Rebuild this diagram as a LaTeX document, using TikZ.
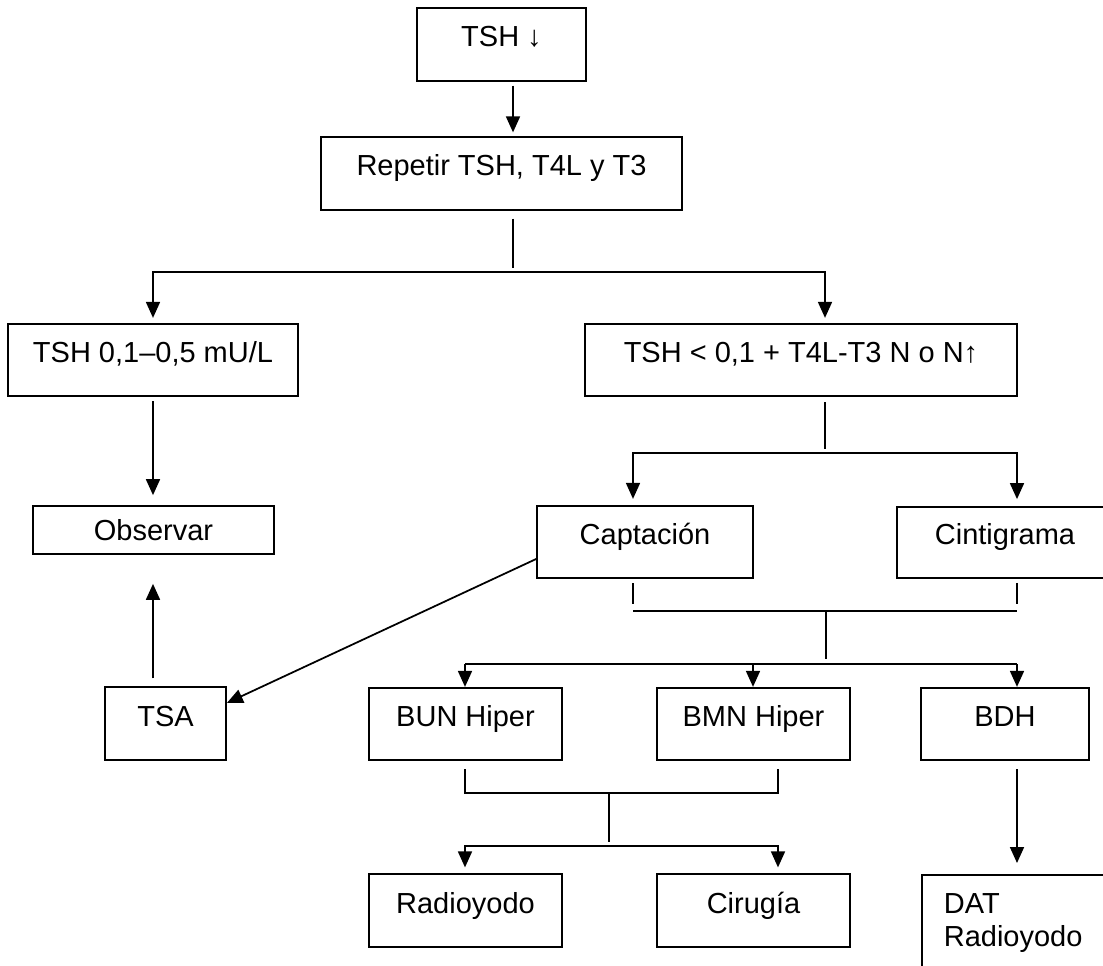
\documentclass[tikz,border=0pt]{standalone}
\usepackage{fontspec}
\setmainfont{Liberation Sans}
\usetikzlibrary{arrows.meta}

\tikzset{
  caja/.style={draw, line width=1pt, inner sep=0pt, minimum height=1.45cm,
    text height=0.42cm, text depth=0.32cm},
  linea/.style={line width=1pt},
  flecha/.style={linea, ->},
}

\begin{document}
\begin{tikzpicture}[x=0.02cm, y=-0.02cm, >={Triangle[length=0.32cm,width=0.28cm]},
    font=\fontsize{16.5}{18.6}\selectfont]
    \clip (0,0) rectangle (1103,966);

    % Cajas
    \node[caja, minimum width=3.38cm] (tsh) at (501.5,44.5) {TSH ↓};
    \node[caja, minimum width=7.22cm] (rep) at (501.5,173.5) {Repetir TSH, T4L y T3};
    \node[caja, minimum width=5.8cm] (low) at (153,360) {TSH 0,1–0,5 mU/L};
    \node[caja, minimum width=8.64cm] (sup) at (801,360) {TSH < 0,1 + T4L-T3 N o N↑};
    \node[caja, minimum width=4.82cm, minimum height=0.96cm, text depth=0cm] (obs) at (153.5,530) {Observar};
    \node[caja, minimum width=4.32cm] (cap) at (645,542) {Captación};
    \node[caja, minimum width=4.32cm, minimum height=1.42cm] (cin) at (1005,542.5) {Cintigrama};
    \node[caja, minimum width=2.42cm] (tsa) at (165.5,723.5) {TSA};
    \node[caja, minimum width=3.86cm] (bun) at (465.5,724) {BUN Hiper};
    \node[caja, minimum width=3.86cm] (bmn) at (753.5,724) {BMN Hiper};
    \node[caja, minimum width=3.36cm] (bdh) at (1005,724) {BDH};
    \node[caja, minimum width=3.86cm] (rad) at (465.5,910.5) {Radioyodo};
    \node[caja, minimum width=3.86cm] (cir) at (753.5,910.5) {Cirugía};
    \node[draw, line width=1pt, anchor=north west, align=left, text width=3.2cm,
      inner xsep=0.44cm, inner ysep=0.38cm] (dat) at (921,874) {DAT\\Radioyodo};

    % Nodi di raccordo
    \coordinate (n1) at (513,272);
    \coordinate (n2) at (825,453);
    \coordinate (n3) at (826,611);
    \coordinate (n4) at (826,664);
    \coordinate (n5) at (609,793);
    \coordinate (n6) at (609,846);

    % Parte alta
    \draw[flecha, shorten <=0.08cm, shorten >=0.08cm] (513,0 |- tsh.south) -- (513,0 |- rep.north);
    \draw[linea, shorten <=0.16cm] (513,0 |- rep.south) -- ([yshift=0.08cm]n1);
    \draw[linea, <->, shorten <=0.1cm, shorten >=0.1cm] (low.north) |- (n1) -| (825,0 |- sup.north);

    % Ramo sinistro
    \draw[flecha, shorten <=0.08cm, shorten >=0.2cm] (low.south) -- (153,0 |- obs.north);
    \draw[flecha, shorten <=0.16cm, shorten >=0.58cm] (153,0 |- tsa.north) -- (153,0 |- obs.south);
    \draw[flecha] ([yshift=-0.34cm]cap.west) -- ([yshift=0.41cm]tsa.east);

    % Ramo destro
    \draw[linea, shorten <=0.1cm] (825,0 |- sup.south) -- ([yshift=0.08cm]n2);
    \draw[linea, <->, shorten <=0.12cm, shorten >=0.14cm] (633,0 |- cap.north) |- (n2) -| (1017,0 |- cin.north);
    \draw[linea, shorten <=0.08cm] (633,0 |- cap.south) -- ++(0,25);
    \draw[linea, shorten <=0.08cm] (1017,0 |- cin.south) -- ++(0,25);
    \draw[linea] (633,0 |- n3) -- (1017,0 |- n3);
    \draw[linea] (n3) -- ([yshift=0.1cm]n4);
    \draw[linea] (465,0 |- n4) -- (1017,0 |- n4);
    \draw[flecha] (465,0 |- n4) -- (465,0 |- bun.north);
    \draw[flecha] (753,0 |- n4) -- (753,0 |- bmn.north);
    \draw[flecha] (1017,0 |- n4) -- (1017,0 |- bdh.north);

    % Terapia
    \draw[linea, shorten <=0.16cm, shorten >=0.16cm] (465,0 |- bun.south) |- (n5) -| (778,0 |- bmn.south);
    \draw[linea] (n5) -- ([yshift=0.08cm]n6);
    \draw[linea, <->, shorten <=0.12cm, shorten >=0.12cm] (465,0 |- rad.north) |- (n6) -| (778,0 |- cir.north);
    \draw[flecha, shorten <=0.16cm, shorten >=0.22cm] (1017,0 |- bdh.south) -- (1017,0 |- dat.north);
\end{tikzpicture}
\end{document}
